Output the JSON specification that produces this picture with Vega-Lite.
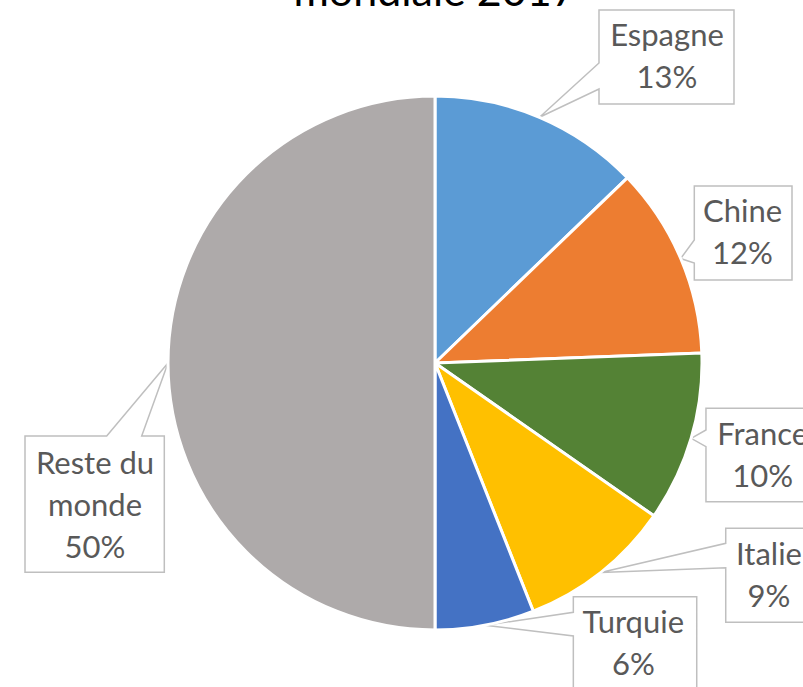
{
  "$schema": "https://vega.github.io/schema/vega-lite/v6.json",
  "width": 534,
  "height": 534,
  "autosize": {"type": "none"},
  "padding": {"left": 168, "top": 96, "right": 101, "bottom": 57},
  "background": "white",
  "config": {"view": {"stroke": null}},
  "title": {
    "text": "mondiale 2017",
    "font": "Lato",
    "fontSize": 43,
    "fontWeight": "normal",
    "color": "black",
    "anchor": "middle",
    "frame": "group",
    "baseline": "alphabetic",
    "offset": 3,
    "dy": 45
  },
  "data": {
    "values": [
      {"pays": "Espagne", "part": 12.8},
      {"pays": "Chine", "part": 11.6},
      {"pays": "France", "part": 10.3},
      {"pays": "Italie", "part": 9.3},
      {"pays": "Turquie", "part": 6.0},
      {"pays": "Reste du monde", "part": 50.0}
    ]
  },
  "transform": [
    {"window": [{"op": "row_number", "as": "rang"}]},
    {"stack": "part", "groupby": [], "sort": [{"field": "rang", "order": "ascending"}], "as": ["s0", "s1"]},
    {"calculate": "2 * PI * (datum.s0 + datum.s1) / 200", "as": "ang"},
    {"calculate": "sin(datum.ang)", "as": "ex"},
    {"calculate": "cos(datum.ang)", "as": "ey"},
    {"calculate": "replace(datum.pays, 'Reste du ', 'Reste du\\n') + '\\n' + format(datum.part / 100, '.0%')", "as": "label"}
  ],
  "layer": [
    {
      "transform": [{"filter": "datum.pays == 'Espagne'"}],
      "mark": {"type": "point", "shape": "M0,0L59.5,-28.3L59.5,-13.3L194.5,-13.3L194.5,-107.3L59.5,-107.3L59.5,-54.3Z", "size": 4, "filled": true, "fill": "white", "stroke": "#BFBFBF", "strokeWidth": 1.5, "opacity": 1},
      "encoding": {
        "x": {"field": "ex", "type": "quantitative", "scale": {"domain": [-1, 1]}, "axis": null},
        "y": {"field": "ey", "type": "quantitative", "scale": {"domain": [-1, 1]}, "axis": null}
      }
    },
    {
      "transform": [{"filter": "datum.pays == 'Chine'"}],
      "mark": {"type": "point", "shape": "M0,0L13.6,-18.5L13.6,-72.5L111.3,-72.5L111.3,21.5L13.6,21.5L13.6,4.5Z", "size": 4, "filled": true, "fill": "white", "stroke": "#BFBFBF", "strokeWidth": 1.5, "opacity": 1},
      "encoding": {
        "x": {"field": "ex", "type": "quantitative", "scale": {"domain": [-1, 1]}, "axis": null},
        "y": {"field": "ey", "type": "quantitative", "scale": {"domain": [-1, 1]}, "axis": null}
      }
    },
    {
      "transform": [{"filter": "datum.pays == 'France'"}],
      "mark": {"type": "point", "shape": "M0,0L14.8,-8.3L14.8,-30L124,-30L124,63.4L14.8,63.4L14.8,8.4Z", "size": 4, "filled": true, "fill": "white", "stroke": "#BFBFBF", "strokeWidth": 1.5, "opacity": 1},
      "encoding": {
        "x": {"field": "ex", "type": "quantitative", "scale": {"domain": [-1, 1]}, "axis": null},
        "y": {"field": "ey", "type": "quantitative", "scale": {"domain": [-1, 1]}, "axis": null}
      }
    },
    {
      "transform": [{"filter": "datum.pays == 'Italie'"}],
      "mark": {"type": "point", "shape": "M0,0L125.1,-29.1L125.1,-44.1L214.4,-44.1L214.4,49.9L125.1,49.9L125.1,-4.7Z", "size": 4, "filled": true, "fill": "white", "stroke": "#BFBFBF", "strokeWidth": 1.5, "opacity": 1},
      "encoding": {
        "x": {"field": "ex", "type": "quantitative", "scale": {"domain": [-1, 1]}, "axis": null},
        "y": {"field": "ey", "type": "quantitative", "scale": {"domain": [-1, 1]}, "axis": null}
      }
    },
    {
      "transform": [{"filter": "datum.pays == 'Turquie'"}],
      "mark": {"type": "point", "shape": "M0,0L88.3,-13L88.3,-28.6L211.7,-28.6L211.7,64.7L88.3,64.7L88.3,10.7Z", "size": 4, "filled": true, "fill": "white", "stroke": "#BFBFBF", "strokeWidth": 1.5, "opacity": 1},
      "encoding": {
        "x": {"field": "ex", "type": "quantitative", "scale": {"domain": [-1, 1]}, "axis": null},
        "y": {"field": "ey", "type": "quantitative", "scale": {"domain": [-1, 1]}, "axis": null}
      }
    },
    {
      "transform": [{"filter": "datum.pays == 'Reste du monde'"}],
      "mark": {"type": "point", "shape": "M0,0L-26.3,73L-3.7,73L-3.7,209.3L-143,209.3L-143,73L-61.3,73Z", "size": 4, "filled": true, "fill": "white", "stroke": "#BFBFBF", "strokeWidth": 1.5, "opacity": 1},
      "encoding": {
        "x": {"field": "ex", "type": "quantitative", "scale": {"domain": [-1, 1]}, "axis": null},
        "y": {"field": "ey", "type": "quantitative", "scale": {"domain": [-1, 1]}, "axis": null}
      }
    },
    {
      "mark": {"type": "arc", "stroke": "white", "strokeWidth": 3, "outerRadius": 267},
      "encoding": {
        "theta": {"field": "s0", "type": "quantitative", "scale": {"domain": [0, 100]}},
        "theta2": {"field": "s1"},
        "color": {
          "field": "pays",
          "type": "nominal",
          "scale": {
            "domain": ["Espagne", "Chine", "France", "Italie", "Turquie", "Reste du monde"],
            "range": ["#5B9BD5", "#ED7D31", "#548235", "#FFC000", "#4472C4", "#AEAAAA"]
          },
          "legend": null
        }
      }
    },
    {
      "transform": [{"filter": "datum.pays == 'Espagne'"}],
      "mark": {"type": "text", "font": "Lato", "fontSize": 31, "color": "#595959", "align": "center", "baseline": "middle", "lineBreak": "\n", "lineHeight": 42, "dx": 127.5, "dy": -80.3},
      "encoding": {
        "x": {"field": "ex", "type": "quantitative", "scale": {"domain": [-1, 1]}, "axis": null},
        "y": {"field": "ey", "type": "quantitative", "scale": {"domain": [-1, 1]}, "axis": null},
        "text": {"field": "label"}
      }
    },
    {
      "transform": [{"filter": "datum.pays == 'Chine'"}],
      "mark": {"type": "text", "font": "Lato", "fontSize": 31, "color": "#595959", "align": "center", "baseline": "middle", "lineBreak": "\n", "lineHeight": 42, "dx": 61.8, "dy": -45.5},
      "encoding": {
        "x": {"field": "ex", "type": "quantitative", "scale": {"domain": [-1, 1]}, "axis": null},
        "y": {"field": "ey", "type": "quantitative", "scale": {"domain": [-1, 1]}, "axis": null},
        "text": {"field": "label"}
      }
    },
    {
      "transform": [{"filter": "datum.pays == 'France'"}],
      "mark": {"type": "text", "font": "Lato", "fontSize": 31, "color": "#595959", "align": "center", "baseline": "middle", "lineBreak": "\n", "lineHeight": 42, "dx": 71.5, "dy": -2.3},
      "encoding": {
        "x": {"field": "ex", "type": "quantitative", "scale": {"domain": [-1, 1]}, "axis": null},
        "y": {"field": "ey", "type": "quantitative", "scale": {"domain": [-1, 1]}, "axis": null},
        "text": {"field": "label"}
      }
    },
    {
      "transform": [{"filter": "datum.pays == 'Italie'"}],
      "mark": {"type": "text", "font": "Lato", "fontSize": 31, "color": "#595959", "align": "center", "baseline": "middle", "lineBreak": "\n", "lineHeight": 42, "dx": 168.4, "dy": -16.9},
      "encoding": {
        "x": {"field": "ex", "type": "quantitative", "scale": {"domain": [-1, 1]}, "axis": null},
        "y": {"field": "ey", "type": "quantitative", "scale": {"domain": [-1, 1]}, "axis": null},
        "text": {"field": "label"}
      }
    },
    {
      "transform": [{"filter": "datum.pays == 'Turquie'"}],
      "mark": {"type": "text", "font": "Lato", "fontSize": 31, "color": "#595959", "align": "center", "baseline": "middle", "lineBreak": "\n", "lineHeight": 42, "dx": 148.3, "dy": -1.3},
      "encoding": {
        "x": {"field": "ex", "type": "quantitative", "scale": {"domain": [-1, 1]}, "axis": null},
        "y": {"field": "ey", "type": "quantitative", "scale": {"domain": [-1, 1]}, "axis": null},
        "text": {"field": "label"}
      }
    },
    {
      "transform": [{"filter": "datum.pays == 'Reste du monde'"}],
      "mark": {"type": "text", "font": "Lato", "fontSize": 31, "color": "#595959", "align": "center", "baseline": "middle", "lineBreak": "\n", "lineHeight": 42, "dx": -73, "dy": 101.7},
      "encoding": {
        "x": {"field": "ex", "type": "quantitative", "scale": {"domain": [-1, 1]}, "axis": null},
        "y": {"field": "ey", "type": "quantitative", "scale": {"domain": [-1, 1]}, "axis": null},
        "text": {"field": "label"}
      }
    }
  ]
}
